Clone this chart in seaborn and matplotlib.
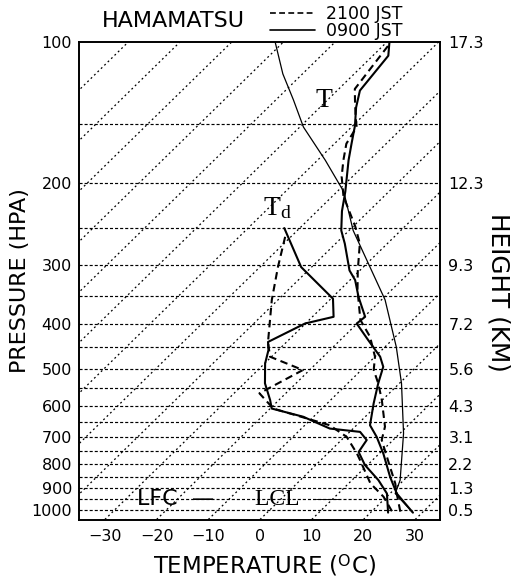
import numpy as np
import pandas as pd
import matplotlib
matplotlib.use("Agg")
import matplotlib.pyplot as plt
from matplotlib.lines import Line2D
from matplotlib.ticker import NullLocator
import seaborn as sns

# ---------------- data (pressure hPa, temperature degC) ----------------
P_T0900 = [100, 107, 127, 138, 151, 165, 179, 209, 230, 253, 270, 308, 323, 351,
           387, 400, 434, 471, 495, 537, 593, 660, 699, 759, 851, 924, 1015]
T_T0900 = [-69.5, -67.0, -65.6, -63.0, -59.6, -56.7, -54.0, -48.4, -45.2, -41.5,
           -38.2, -32.0, -29.0, -25.0, -19.8, -20.1, -14.6, -9.0, -6.4, -4.1,
           -1.0, 2.6, 6.2, 10.8, 16.7, 21.3, 28.2]

P_T2100 = [102, 126, 133, 145, 152, 165, 179, 194, 214, 248, 270, 308, 339, 393,
           427, 471, 503, 537, 583, 665, 710, 810, 879, 924, 1015]
T_T2100 = [-69.0, -66.9, -64.7, -61.1, -59.0, -57.7, -55.0, -52.1, -47.8, -39.6,
           -35.3, -30.4, -26.6, -20.1, -14.9, -10.0, -7.6, -4.1, -0.1, 5.8, 7.8,
           14.7, 19.0, 21.3, 25.8]

P_TD0900 = [250, 303, 354, 387, 400, 438, 456, 487, 537, 583, 608, 633, 671, 682,
            710, 753, 803, 865, 924, 1015]
T_TD0900 = [-53.0, -42.0, -29.6, -25.9, -30.1, -33.6, -31.9, -29.9, -26.0, -21.7,
            -19.7, -12.0, -4.5, 2.0, 4.9, 5.7, 9.5, 15.1, 19.4, 23.4]

P_TD2100 = [261, 303, 356, 438, 471, 503, 564, 608, 660, 699, 759, 784, 879, 939, 1015]
T_TD2100 = [-51.1, -46.5, -41.2, -33.6, -30.3, -21.3, -25.1, -19.4, -5.2, 0.4,
            5.7, 7.6, 14.2, 19.4, 24.3]

P_PARCEL = [100, 117, 133, 152, 179, 209, 253, 356, 449, 537, 687, 865, 924, 1015]
T_PARCEL = [-91.6, -83.8, -76.6, -69.3, -58.5, -48.7, -39.2, -19.3, -7.8, 0.4,
            10.7, 19.3, 21.0, 28.2]

P_TICKS = [100, 200, 300, 400, 500, 600, 700, 800, 900, 1000]
P_LABELS = ["100", "200", "300", "400", "500", "600", "700", "800", "900", "1000"]
H_LABELS = ["17.3", "12.3", "9.3", "7.2", "5.6", "4.3", "3.1", "2.2", "1.3", "0.5"]
T_TICKS = [-30, -20, -10, 0, 10, 20, 30]
T_LABELS = ["\u221230", "\u221220", "\u221210", "0", "10", "20", "30"]
ISOBARS = list(range(150, 1001, 50))
ISOTHERMS = list(range(-140, 41, 10))

SKEW = 40.2      # skew-T factor (degC per ln p)
P_BOT, P_TOP = 1050, 100


def skew_x(t, p):
    return np.asarray(t, float) + SKEW * np.log(P_BOT / np.asarray(p, float))


sns.set_theme(style="white")
plt.rcParams["font.family"] = ["DejaVu Sans"]
plt.rcParams["mathtext.fontset"] = "custom"
plt.rcParams["mathtext.rm"] = "Liberation Serif"
plt.rcParams["mathtext.it"] = "Liberation Serif:italic"
plt.rcParams["mathtext.sf"] = "DejaVu Sans"

fig = plt.figure(figsize=(5.13, 5.81), dpi=100)
ax = fig.add_axes([79 / 513, 1 - 519.5 / 581, 361 / 513, 477.5 / 581])
ax.set_yscale("log")

# background: isobars and skewed isotherms
for p in ISOBARS:
    ax.axhline(p, color="black", lw=0.85, ls=(0, (2.6, 1.7)), zorder=1)
for t in ISOTHERMS:
    ax.plot(skew_x([t, t], [P_BOT, P_TOP]), [P_BOT, P_TOP], color="black",
            lw=0.9, ls=(0, (1.5, 2.3)), zorder=1)


def profile(p, t, **kw):
    df = pd.DataFrame({"p": p, "X": skew_x(t, p)})
    sns.lineplot(data=df, x="X", y="p", sort=False, estimator=None, ax=ax,
                 color="black", zorder=3, **kw)


dash = (0, (3.6, 2.2))
profile(P_PARCEL, T_PARCEL, lw=0.9)
profile(P_T0900, T_T0900, lw=1.5)
profile(P_T2100, T_T2100, lw=1.5, linestyle=dash)
profile(P_TD0900, T_TD0900, lw=1.5)
profile(P_TD2100, T_TD2100, lw=1.5, linestyle=dash)

ax.set_ylim(P_BOT, P_TOP)
ax.set_xlim(-35.0, 34.8)

ax.set_xticks(T_TICKS)
ax.set_xticklabels(T_LABELS)
ax.set_yticks(P_TICKS)
ax.set_yticklabels(P_LABELS)
ax.yaxis.set_minor_locator(NullLocator())
ax.tick_params(axis="both", length=0, labelsize=11.5, colors="black")
ax.tick_params(axis="x", pad=7)
ax.tick_params(axis="y", pad=5)

for s in ax.spines.values():
    s.set_color("black")
    s.set_linewidth(1.4)

ax.set_xlabel("TEMPERATURE ($^{\\mathsf{O}}$C)", fontsize=16.5, color="black", va="center")
ax.xaxis.set_label_coords((264 - 79) / 361, (519.5 - 565) / 477.5)
ax.set_ylabel("PRESSURE (HPA)", fontsize=16, color="black", va="center")
ax.yaxis.set_label_coords((20 - 79) / 361, 0.5)

ax2 = ax.twinx()
ax2.set_yscale("log")
ax2.set_ylim(P_BOT, P_TOP)
ax2.set_yticks(P_TICKS)
ax2.set_yticklabels(H_LABELS)
ax2.yaxis.set_minor_locator(NullLocator())
ax2.tick_params(axis="y", length=0, labelsize=11.5, pad=6, colors="black")
for s in ax2.spines.values():
    s.set_visible(False)
ax2.set_ylabel("HEIGHT (KM)", fontsize=17.8, color="black", rotation=270, va="center")
ax2.yaxis.set_label_coords((498 - 79) / 361, (519.5 - 292) / 477.5)

# curve labels
ax.text(12.4, 137.5, "T", family="Liberation Serif",
        fontsize=20, ha="center", va="baseline", color="black", zorder=4)
ax.text(0.64, 234.5, "$\\mathrm{T_d}$", fontsize=20,
        ha="left", va="baseline", color="black", zorder=4)
ax.text(-23.85, 978, "LFC  \u2014", fontsize=16, ha="left", va="baseline",
        color="black", zorder=4)
ax.text(-0.97, 978, "LCL   \u2014", family="Liberation Serif", fontsize=17,
        ha="left", va="baseline", color="black", zorder=4)

# title and legend
fig.text(173 / 513, 1 - 21 / 581, "HAMAMATSU", fontsize=16, ha="center",
         va="center", color="black")
handles = [Line2D([], [], color="black", lw=1.2, ls=(0, (3.5, 2.0))),
           Line2D([], [], color="black", lw=1.2)]
fig.legend(handles, ["2100 JST", "0900 JST"], loc="upper left",
           bbox_to_anchor=(270 / 513, 1 - 5 / 581), frameon=False, fontsize=12.5,
           handlelength=2.6, handletextpad=0.6, labelspacing=-0.08, borderpad=0,
           borderaxespad=0, labelcolor="black")

fig.savefig("out.png", dpi=100, facecolor="white")
